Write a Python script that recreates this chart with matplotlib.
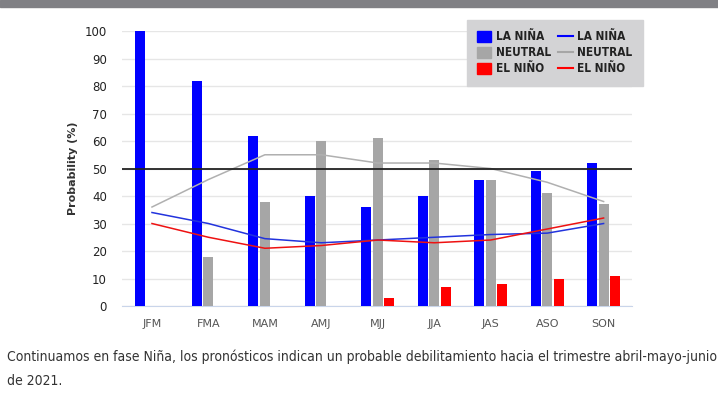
import matplotlib.pyplot as plt
from matplotlib.patches import Patch, Rectangle
from matplotlib.lines import Line2D
import numpy as np

seasons = ["JFM", "FMA", "MAM", "AMJ", "MJJ", "JJA", "JAS", "ASO", "SON"]

# bar values (%)
nina_bars = [100, 82, 62, 40, 36, 40, 46, 49, 52]
neutral_bars = [0, 18, 38, 60, 61, 53, 46, 41, 37]
nino_bars = [0, 0, 0, 0, 3, 7, 8, 10, 11]

# climatology lines (%)
nina_line = [34, 30, 24.5, 23, 24, 25, 26, 26.5, 30]
neutral_line = [36, 46, 55, 55, 52, 52, 50, 45, 38]
nino_line = [30, 25, 21, 22, 24, 23, 24, 28, 32]

BLUE = "#0000ff"
GRAY = "#a6a6a6"
RED = "#ff0000"

fig = plt.figure(figsize=(7.18, 4.05), dpi=100)
fig.patches.append(Rectangle((0, 0.982), 1, 0.018, transform=fig.transFigure,
                             color="#808084", zorder=0))

ax = fig.add_axes([0.170, 0.2444, 0.710, 0.679])
x = np.arange(len(seasons))
w = 0.177
step = 0.204

ax.bar(x - step, nina_bars, w, color=BLUE, zorder=3, clip_on=False)
ax.bar(x, neutral_bars, w, color=GRAY, zorder=3)
ax.bar(x + step, nino_bars, w, color=RED, zorder=3)

ax.plot(x, nina_line, color="#2233dd", lw=1.1, zorder=4)
ax.plot(x, neutral_line, color="#b0b0b0", lw=1.1, zorder=4)
ax.plot(x, nino_line, color="#ee1111", lw=1.1, zorder=4)

ax.axhline(50, color="#222222", lw=1.3, zorder=5)

ax.set_xlim(-0.53, 8.5)
ax.set_ylim(0, 100)
ax.set_yticks(range(0, 101, 10))
ax.set_xticks(x)
ax.set_xticklabels(seasons)
ax.grid(axis="y", color="#e6e6e6", lw=1, zorder=0)
for s in ["top", "right", "left"]:
    ax.spines[s].set_visible(False)
ax.spines["bottom"].set_color("#c9d5ea")
ax.tick_params(axis="both", length=0)
ax.tick_params(axis="y", pad=11, labelcolor="#222222", labelsize=8.5)
ax.tick_params(axis="x", pad=9, labelcolor="#555555", labelsize=8)
ax.set_ylabel("Probability (%)", fontsize=8, fontweight="bold", labelpad=5,
              color="#333333")

handles = [Patch(color=BLUE), Patch(color=GRAY), Patch(color=RED),
           Line2D([], [], color=BLUE, lw=1.5), Line2D([], [], color=GRAY, lw=1.5),
           Line2D([], [], color=RED, lw=1.5)]
labels = ["LA NIÑA", "NEUTRAL", "EL NIÑO"] * 2
leg = fig.legend(handles, labels, ncol=2, loc="upper left",
                 bbox_to_anchor=(0.650, 0.951), borderaxespad=0,
                 frameon=True, fancybox=False,
                 facecolor="#d3d3d5", edgecolor="#d3d3d5", framealpha=1,
                 prop={"family": "DejaVu Sans", "stretch": "condensed",
                       "weight": "bold", "size": 8.5},
                 handlelength=1.2, handleheight=1.1, handletextpad=0.4,
                 columnspacing=0.6, labelspacing=0.25, borderpad=0.9)
for t in leg.get_texts():
    t.set_color("#222222")

fig.text(0.010, 0.108,
         "Continuamos en fase Niña, los pronósticos indican un probable "
         "debilitamiento hacia el trimestre abril-mayo-junio",
         fontsize=10, family="DejaVu Sans", stretch="condensed", color="#333333")
fig.text(0.010, 0.050, "de 2021.", fontsize=10, family="DejaVu Sans",
         stretch="condensed", color="#333333")

fig.savefig("out.png", dpi=100)
